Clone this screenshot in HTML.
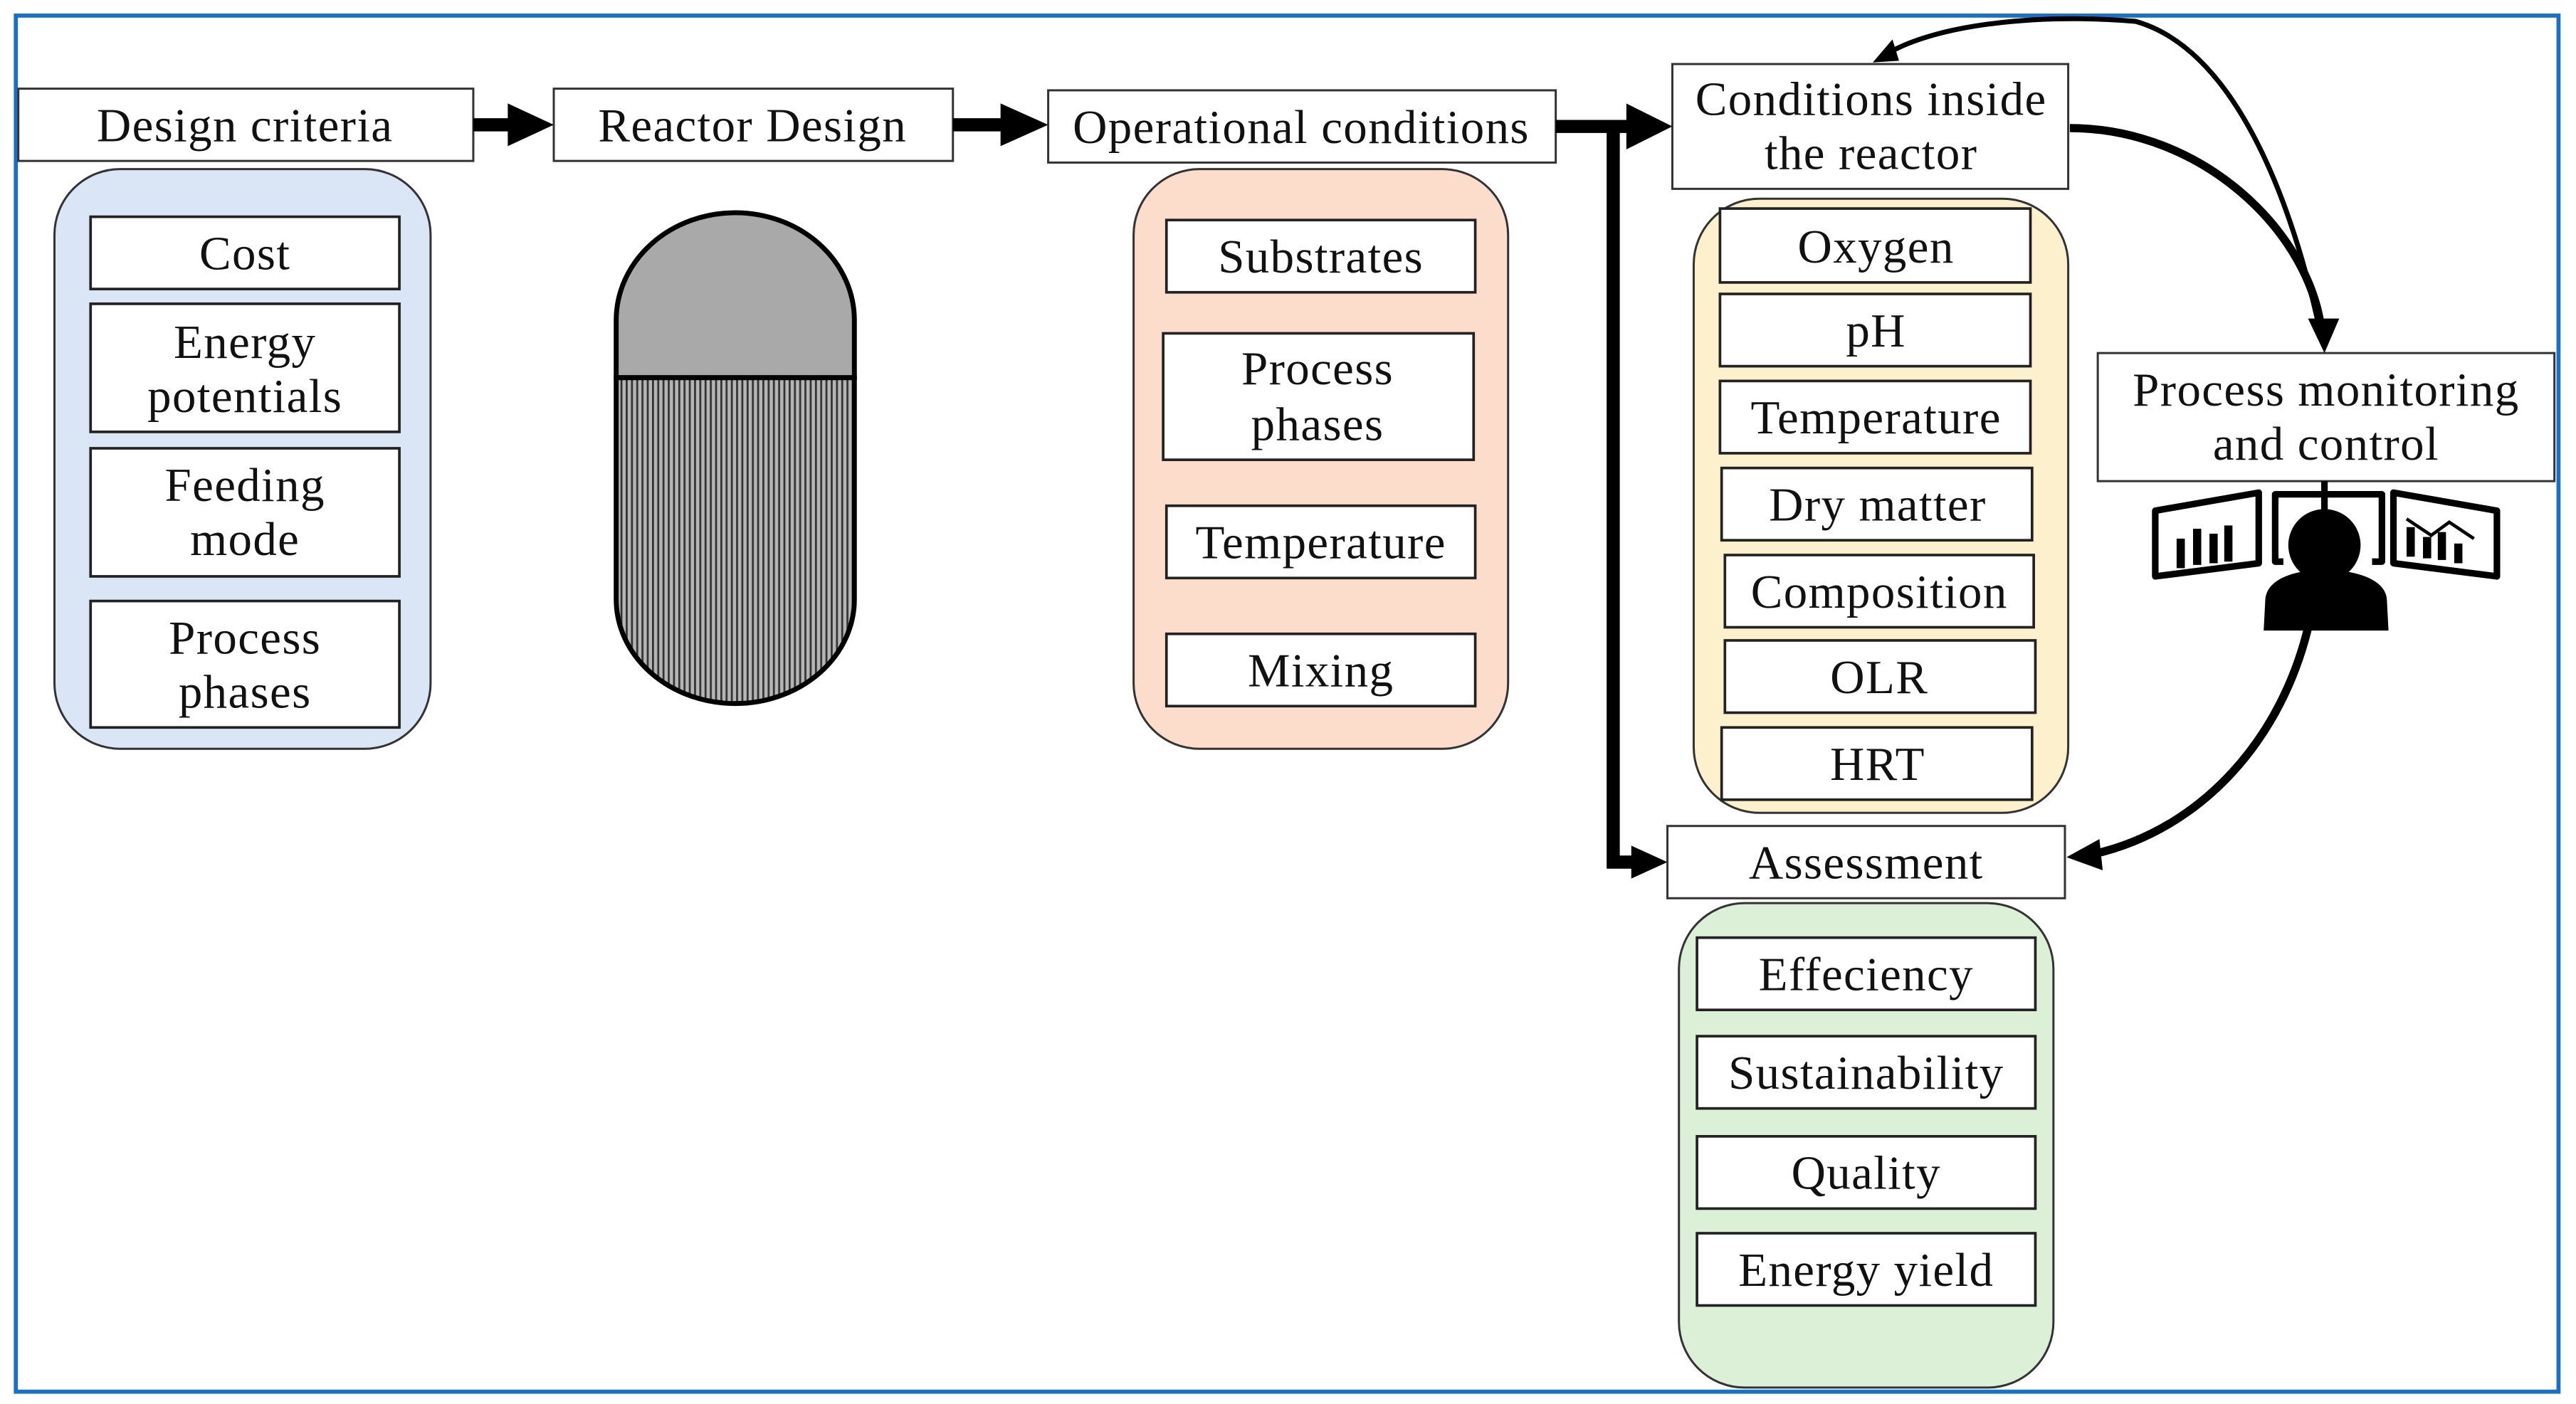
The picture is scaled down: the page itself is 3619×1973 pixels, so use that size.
<!DOCTYPE html>
<html><head><meta charset="utf-8"><style>
html,body{margin:0;padding:0;background:#fff;}
svg{display:block;}
text{font-family:"Liberation Serif",serif;font-size:29px;letter-spacing:0.6px;fill:#111;text-anchor:middle;}
</style></head><body>
<svg width="3619" height="1973" viewBox="0 0 1568 855" xmlns="http://www.w3.org/2000/svg">
<defs>
<pattern id="hatch" width="3.2" height="10" patternUnits="userSpaceOnUse">
<rect width="3.2" height="10" fill="#b5b5b5"/><rect width="1.2" height="10" fill="#333"/>
</pattern>
</defs>
<rect x="0" y="0" width="1568" height="855" fill="#fff"/>
<rect x="9.5" y="9.5" width="1548" height="838" fill="none" stroke="#1a6fc8" stroke-width="2.5"/>

<g stroke="#333" stroke-width="1.3">
<rect x="33" y="103" width="229" height="353" rx="40" fill="#dae6f5"/>
<rect x="690" y="103" width="228" height="353" rx="40" fill="#fcdccb"/>
<rect x="1031" y="121" width="228" height="374" rx="40" fill="#fdf0cd"/>
<rect x="1022" y="550" width="228" height="295" rx="40" fill="#dcf0d8"/>
</g>
<g fill="#fff" stroke="#333" stroke-width="1.3">
<rect x="11" y="54" width="277" height="44"/>
<rect x="337" y="54" width="243" height="44"/>
<rect x="638" y="55" width="309" height="44"/>
<rect x="1018" y="39" width="241" height="76"/>
<rect x="1015" y="503" width="242" height="44"/>
<rect x="1277" y="215" width="278" height="78"/>
</g>
<g fill="#fff" stroke="#222" stroke-width="1.6">
<rect x="55" y="132" width="188" height="44"/>
<rect x="55" y="185" width="188" height="78"/>
<rect x="55" y="273" width="188" height="78"/>
<rect x="55" y="366" width="188" height="77"/>
<rect x="710" y="134" width="188" height="44"/>
<rect x="708" y="203" width="189" height="77"/>
<rect x="710" y="308" width="188" height="44"/>
<rect x="710" y="386" width="188" height="44"/>
<rect x="1047" y="127" width="189" height="45"/>
<rect x="1047" y="179" width="189" height="44"/>
<rect x="1047" y="232" width="189" height="44"/>
<rect x="1048" y="285" width="189" height="44"/>
<rect x="1050" y="338" width="188" height="44"/>
<rect x="1050" y="390" width="189" height="44"/>
<rect x="1048" y="443" width="189" height="44"/>
<rect x="1033" y="571" width="206" height="44"/>
<rect x="1033" y="631" width="206" height="44"/>
<rect x="1033" y="692" width="206" height="44"/>
<rect x="1033" y="751" width="206" height="44"/>
</g>

<path d="M375,230 L375,195 A72,65 0 0 1 520,195 L520,230 Z" fill="#a9a9a9" stroke="#000" stroke-width="3"/>
<path d="M375,230 L520,230 L520,365 A72,63 0 0 1 375,365 Z" fill="url(#hatch)" stroke="#000" stroke-width="3"/>

<g stroke="#000" stroke-width="8" fill="none">
<line x1="288" y1="76" x2="312" y2="76"/>
<line x1="580" y1="76" x2="612" y2="76"/>
<line x1="947" y1="77" x2="994" y2="77"/>
<polyline points="982,77 982,525 995,525"/>
</g>
<g fill="#000">
<path d="M309,63 L337,76 L309,89 Z"/>
<path d="M609,63 L638,76 L609,89 Z"/>
<path d="M990,63 L1018,77 L990,91 Z"/>
<path d="M993,515 L1015,525 L993,535 Z"/>
</g>

<path d="M1260,78 C1340,78 1405,140 1413,200" stroke="#000" stroke-width="5" fill="none"/>
<path d="M1405,194 L1415,215 L1424,194 Z" fill="#000"/>
<path d="M1413,205 C1395,120 1360,30 1300,13 C1240,8 1180,15 1150,32" stroke="#000" stroke-width="3" fill="none"/>
<path d="M1140,38 L1152,24 L1156,37 Z" fill="#000"/>
<path d="M1406,378 C1390,450 1340,505 1275,520" stroke="#000" stroke-width="5" fill="none"/>
<path d="M1258,522 L1278,511 L1280,530 Z" fill="#000"/>

<g fill="none" stroke="#000" stroke-width="4" stroke-linejoin="round">
<path d="M1312,311 L1375,300 L1375,343 L1312,351 Z"/>
<path d="M1457,300 L1520,311 L1520,351 L1457,343 Z"/>
<path d="M1390,342 L1385,342 L1385,301 L1450,301 L1450,342 L1444,342"/>
</g>
<line x1="1415" y1="293" x2="1415" y2="320" stroke="#000" stroke-width="4"/>
<g fill="#000">
<rect x="1325" y="328" width="5" height="18"/><rect x="1335" y="322" width="5" height="22"/>
<rect x="1345" y="325" width="5" height="18"/><rect x="1354" y="320" width="5" height="22"/>
<rect x="1465" y="321" width="5" height="18"/><rect x="1475" y="327" width="5" height="13"/>
<rect x="1484" y="324" width="5" height="17"/><rect x="1494" y="331" width="5" height="12"/>
<circle cx="1415" cy="332" r="22"/>
<path d="M1378,384 L1379,365 C1380,352 1398,347 1415,347 C1432,347 1452,352 1453,365 L1454,384 Z"/>
</g>
<polyline points="1465,316 1480,326 1491,318 1506,328" fill="none" stroke="#000" stroke-width="2"/>

<text x="149" y="86">Design criteria</text>
<text x="458" y="86">Reactor Design</text>
<text x="792" y="87">Operational conditions</text>
<text x="1139" y="70">Conditions inside</text>
<text x="1139" y="103">the reactor</text>
<text x="1136" y="535">Assessment</text>
<text x="1416" y="247">Process monitoring</text>
<text x="1416" y="280">and control</text>
<text x="149" y="164">Cost</text>
<text x="149" y="218">Energy</text>
<text x="149" y="251">potentials</text>
<text x="149" y="305">Feeding</text>
<text x="149" y="338">mode</text>
<text x="149" y="398">Process</text>
<text x="149" y="431">phases</text>
<text x="804" y="166">Substrates</text>
<text x="802" y="234">Process</text>
<text x="802" y="268">phases</text>
<text x="804" y="340">Temperature</text>
<text x="804" y="418">Mixing</text>
<text x="1142" y="160">Oxygen</text>
<text x="1142" y="211">pH</text>
<text x="1142" y="264">Temperature</text>
<text x="1143" y="317">Dry matter</text>
<text x="1144" y="370">Composition</text>
<text x="1144" y="422">OLR</text>
<text x="1143" y="475">HRT</text>
<text x="1136" y="603">Effeciency</text>
<text x="1136" y="663">Sustainability</text>
<text x="1136" y="724">Quality</text>
<text x="1136" y="783">Energy yield</text>
</svg>
</body></html>
